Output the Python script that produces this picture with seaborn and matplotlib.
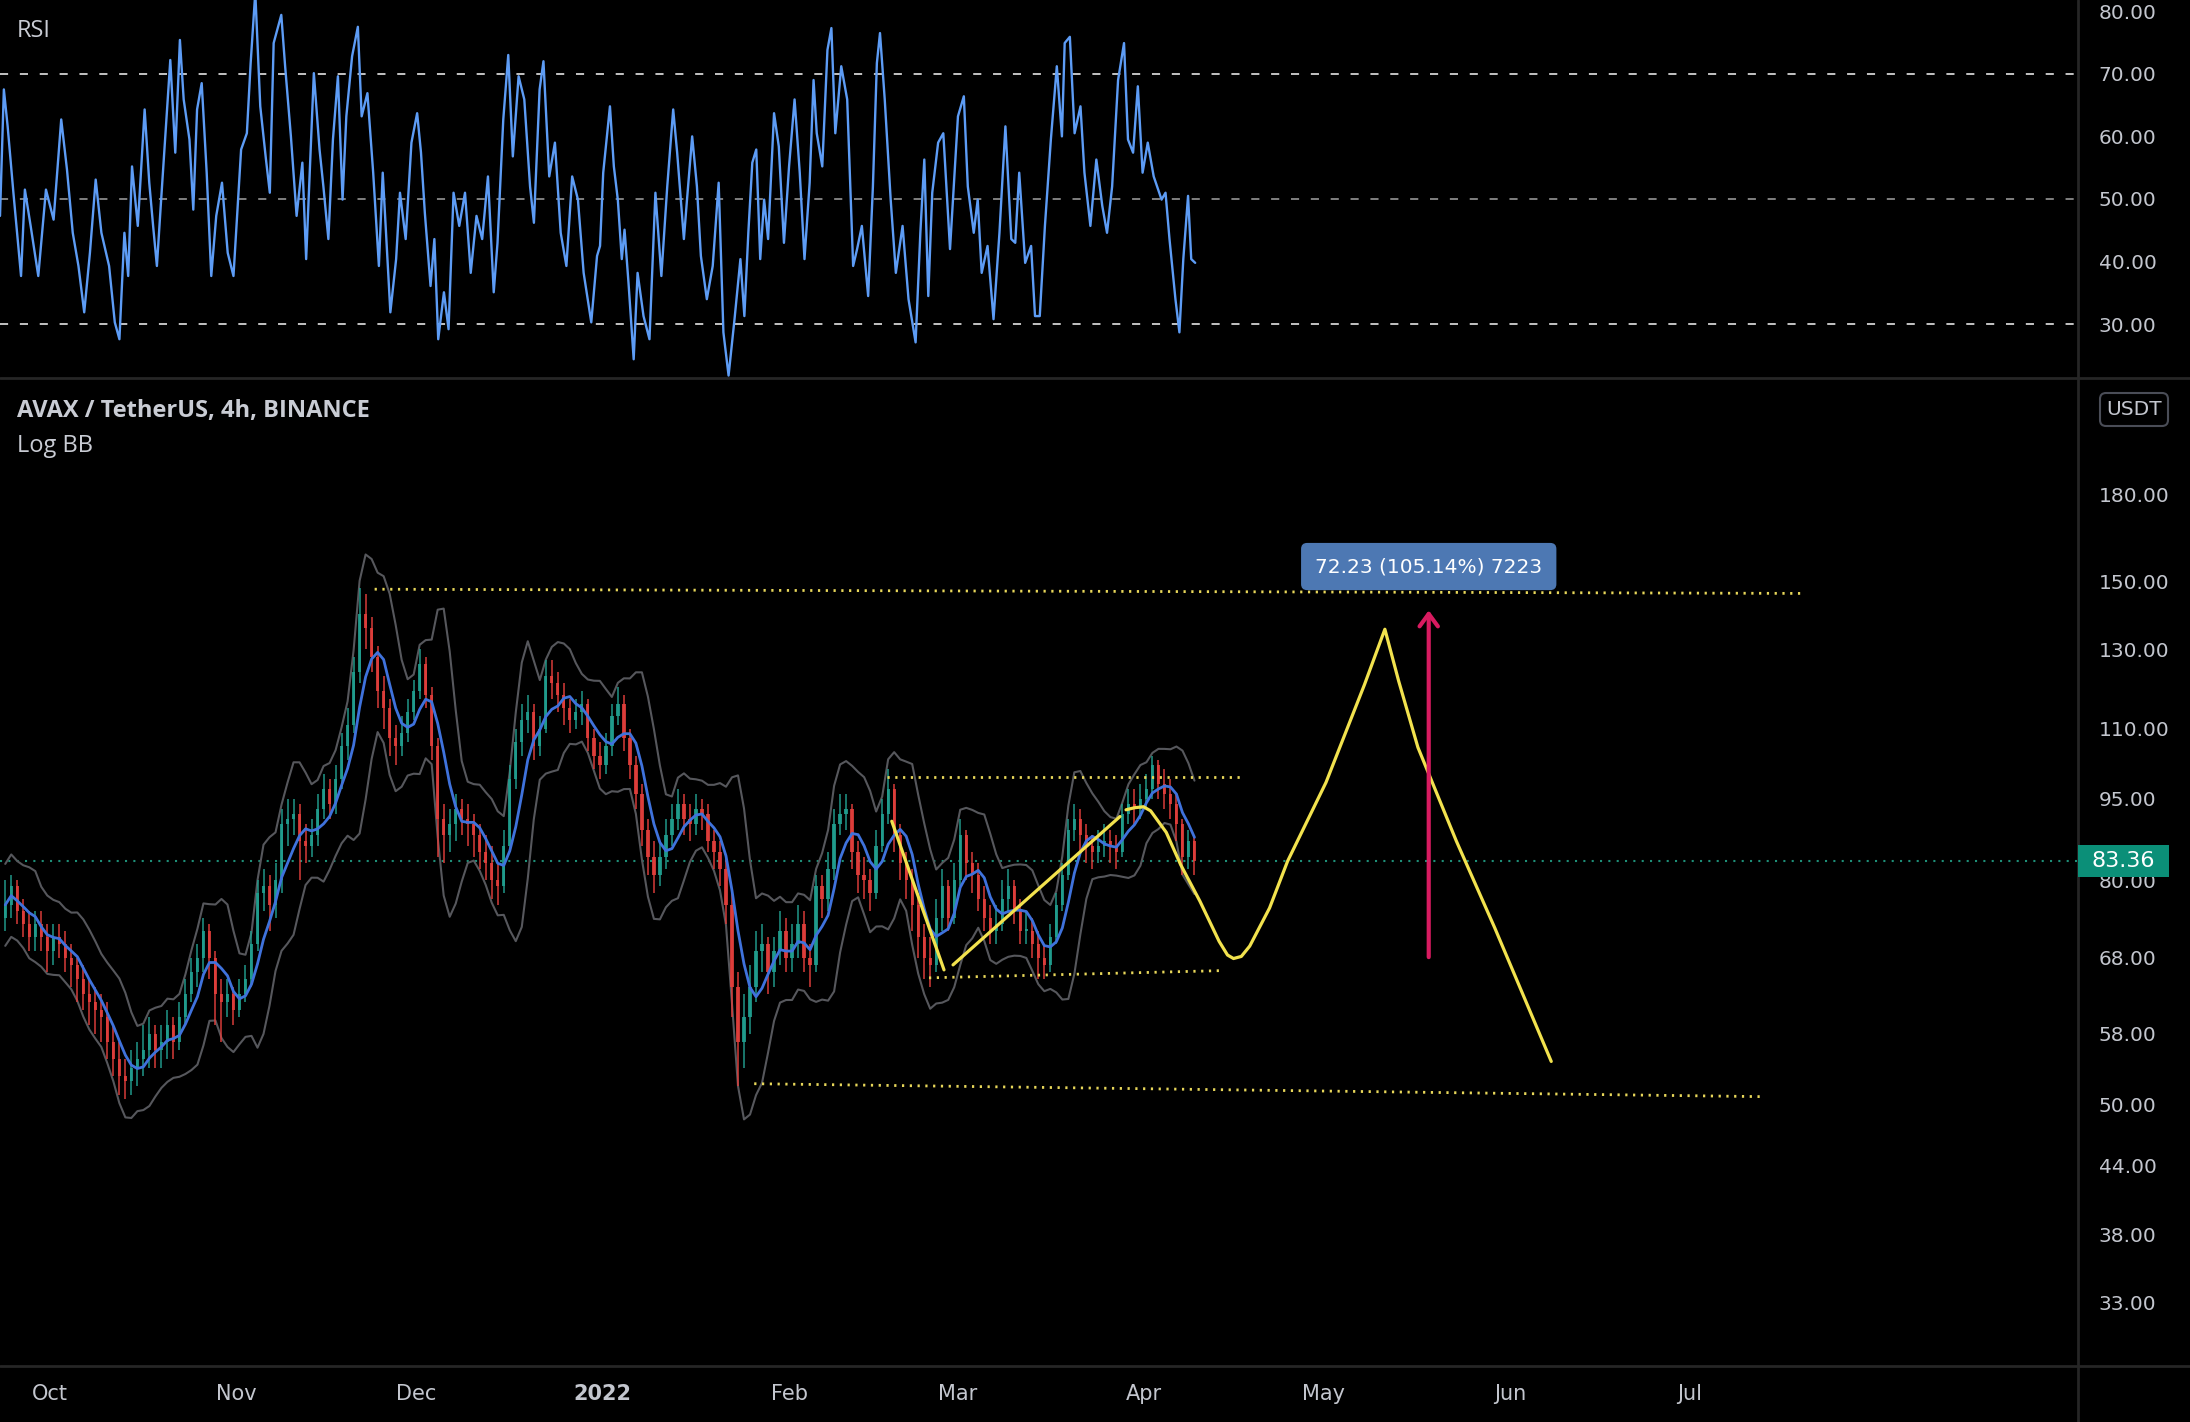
import numpy as np
import pandas as pd
import matplotlib
matplotlib.use("Agg")
import matplotlib.pyplot as plt
import matplotlib.dates as mdates
from matplotlib.lines import Line2D
from matplotlib.patches import FancyBboxPatch, Rectangle
from matplotlib.ticker import FuncFormatter, NullLocator, FixedLocator
import seaborn as sns

# ---------------- data ----------------
BASE = pd.Timestamp("2021-10-01")
first_day = -8          # first daily candle: 2021-09-23
first_open = 74

closes = [76, 79, 75, 73, 71, 73, 71, 69, 71, 70,
          68, 67, 65, 63, 62, 61, 60, 57, 55, 53,
          52.5, 54, 55, 56, 58, 56, 57, 59, 57, 60,
          63, 66, 68, 72, 68, 63, 62, 63, 61, 63,
          65, 70, 78, 79, 76, 80, 90, 91, 92, 87,
          86, 88, 93, 97, 94, 99, 106, 111, 124, 140,
          136, 128, 119, 115, 108, 106, 109, 114, 119, 126,
          118, 106, 91, 88, 90, 93, 91, 90, 88, 85,
          83, 80, 79, 86, 99, 107, 112, 114, 106, 110,
          123, 121, 118, 115, 112, 114, 116, 108, 104, 102,
          106, 113, 116, 108, 102, 96, 89, 84, 81, 84,
          88, 91, 94, 91, 90, 93, 92, 87, 85, 82,
          76, 64, 57, 60, 64, 69, 70, 66, 69, 72,
          68, 70, 73, 68, 67, 79, 77, 82, 90, 92,
          93, 85, 81, 80, 78, 86, 92, 97, 88, 83,
          80, 76, 71, 68, 67, 74, 79, 74, 80, 88,
          83, 81, 77, 74, 72, 73, 77, 79, 75, 72,
          72, 70, 68, 67, 71, 76, 81, 89, 91, 88,
          86, 85, 86, 87, 86, 85, 92, 94, 93, 95,
          97, 102, 98, 96, 94, 90, 84, 87, 83.36]

highs = [80, 81, 80, 77, 75, 75, 75, 73, 73, 73,
         72, 70, 68, 67, 65, 64, 63, 62, 59, 57,
         55, 56, 57, 59, 60, 59, 59, 61, 60, 62,
         65, 68, 70, 74, 73, 69, 65, 65, 64, 65,
         67, 72, 80, 82, 81, 83, 93, 95, 95, 94,
         90, 91, 96, 100, 99, 102, 109, 115, 128, 148,
         146, 139, 131, 123, 117, 111, 113, 117, 122, 130,
         128, 120, 108, 94, 93, 96, 95, 94, 92, 90,
         88, 86, 83, 89, 102, 110, 116, 118, 116, 113,
         127, 127, 124, 121, 117, 117, 119, 117, 110, 107,
         109, 116, 120, 118, 110, 104, 98, 91, 87, 87,
         91, 94, 97, 96, 94, 96, 95, 94, 89, 87,
         84, 78, 66, 63, 67, 72, 73, 71, 71, 75,
         74, 73, 76, 75, 70, 81, 81, 85, 93, 96,
         96, 94, 87, 84, 82, 89, 95, 101, 98, 90,
         85, 82, 78, 73, 71, 77, 82, 80, 83, 91,
         89, 85, 83, 79, 76, 76, 80, 82, 80, 77,
         75, 74, 72, 70, 73, 78, 83, 91, 94, 93,
         90, 88, 89, 90, 89, 88, 94, 97, 97, 98,
         100, 104, 103, 101, 99, 96, 91, 89, 88]

lows = [72, 74, 73, 71, 69, 69, 69, 66, 67, 68,
        66, 64, 62, 61, 59, 58, 57, 55, 53, 51,
        50.5, 51, 52, 53, 54, 54, 54, 55, 55, 56,
        59, 62, 64, 66, 65, 59, 57, 60, 59, 60,
        62, 64, 69, 75, 72, 74, 78, 86, 88, 80,
        83, 84, 86, 91, 91, 92, 97, 103, 109, 121,
        130, 124, 115, 110, 104, 102, 104, 107, 112, 117,
        115, 103, 84, 83, 85, 87, 88, 86, 84, 82,
        80, 77, 76, 78, 85, 97, 104, 109, 103, 104,
        109, 117, 114, 111, 109, 110, 111, 105, 101, 99,
        100, 104, 111, 105, 99, 93, 86, 81, 78, 79,
        82, 86, 89, 88, 87, 88, 89, 85, 82, 79,
        73, 60, 52, 54, 58, 62, 66, 63, 64, 67,
        66, 66, 68, 66, 64, 66, 74, 75, 80, 88,
        89, 82, 78, 77, 75, 77, 85, 90, 85, 80,
        77, 72, 68, 65, 64, 66, 72, 72, 73, 79,
        80, 78, 75, 72, 70, 70, 72, 75, 73, 70,
        70, 68, 65, 65, 66, 70, 75, 80, 87, 85,
        83, 82, 83, 84, 83, 82, 84, 90, 90, 91,
        93, 95, 95, 93, 91, 87, 81, 82, 81]

# RSI turning points: day offset from 2021-10-01 and value
rsi_day = [-8.37, -7.73, -7.10, -6.14, -4.87, -4.23, -3.27, -2.00, -0.72, 0.55,
           1.82, 2.78, 3.74, 4.69, 5.65, 6.60, 7.56, 8.51, 9.79, 10.74,
           11.51, 12.34, 12.97, 13.61, 14.57, 15.71, 16.48, 17.12, 17.75, 18.39,
           19.98, 20.81, 21.58, 22.21, 23.17, 23.81, 24.44, 25.21, 26.04, 26.80,
           27.63, 28.59, 29.54, 30.50, 31.77, 32.73, 33.36, 34.13, 34.96, 35.91,
           36.55, 37.19, 38.46, 39.10, 40.06, 41.01, 41.97, 42.60, 43.88, 44.83,
           45.47, 46.30, 47.06, 47.89, 48.66, 49.29, 50.25, 51.21, 51.84, 52.80,
           53.76, 54.71, 55.35, 56.62, 57.58, 58.22, 59.17, 60.13, 61.08, 61.72,
           62.36, 63.31, 63.95, 64.59, 65.54, 66.31, 67.14, 68.09, 69.05, 70.00,
           70.96, 71.91, 72.87, 73.83, 74.46, 75.42, 76.25, 77.01, 77.97, 78.92,
           79.88, 80.52, 81.47, 82.11, 83.07, 84.02, 84.98, 85.93, 86.89, 87.85,
           88.80, 90.07, 91.03,
           91.53, 92.06, 93.18, 93.83, 94.49, 95.15, 95.61, 96.27, 97.13, 97.78,
           98.77, 99.76, 100.75, 101.74, 102.72, 103.71, 104.37, 105.49, 106.01, 106.87,
           107.66, 108.32, 109.31, 110.29, 111.28, 112.07, 112.93, 113.92, 114.90, 115.56,
           116.22, 116.88, 117.54, 118.20, 118.85, 119.51, 120.50, 121.29, 122.15, 123.00,
           123.92, 124.78, 125.57, 126.43, 127.08, 127.61, 128.53, 129.39, 130.05, 130.70,
           131.69, 132.68, 133.67, 134.33, 135.12, 136.17, 136.96, 137.62, 138.14, 138.93,
           139.92, 140.78, 141.90, 142.89, 144.07, 144.86, 145.52, 146.18, 146.84, 147.82,
           148.68, 149.80, 151.12, 152.10, 152.76, 153.75, 154.41, 155.07, 156.05, 157.04,
           158.03, 159.02, 160.00, 160.66, 161.32, 162.31, 163.30, 163.95, 164.74, 165.60,
           166.59, 167.58, 168.43, 168.89, 169.75, 170.54, 171.52, 172.18, 173.17, 174.16,
           175.15, 175.94, 176.79, 177.78, 178.77, 179.43, 180.28, 181.07, 181.86, 182.72,
           183.71, 185.02, 185.68, 186.34, 187.33, 187.99, 188.64, 189.43, 189.96, 190.62]
rsi_val = [47.3, 67.5, 61.6, 51.0, 37.7, 51.5, 45.7, 37.7, 51.5, 46.7,
           62.7, 54.7, 44.6, 39.3, 31.9, 41.4, 53.1, 44.6, 39.3, 30.3,
           27.6, 44.6, 37.7, 55.2, 45.7, 64.3, 52.6, 45.7, 39.3, 48.9,
           72.2, 57.4, 75.4, 65.9, 59.5, 48.3, 64.3, 68.5, 54.2, 37.7,
           47.3, 52.6, 41.4, 37.7, 57.9, 60.5, 71.7, 83.0, 64.8, 56.3,
           51.0, 74.9, 79.4, 71.2, 60.0, 47.3, 55.8, 40.4, 70.1, 57.9,
           52.0, 43.6, 59.5, 69.6, 49.9, 63.2, 72.8, 77.5, 63.2, 66.9,
           54.2, 39.3, 54.2, 31.9, 40.4, 51.0, 43.6, 59.0, 63.7, 57.4,
           47.8, 36.1, 43.6, 27.6, 35.1, 29.2, 51.0, 45.7, 51.0, 38.2,
           47.3, 43.6, 53.6, 35.1, 43.0, 62.7, 73.0, 56.8, 69.6, 65.9,
           52.0, 46.2, 67.5, 72.0, 53.6, 59.0, 44.6, 39.3, 53.6, 49.9,
           38.2, 30.3, 40.9,
           42.5, 54.2, 64.8, 55.2, 49.9, 40.4, 45.1, 36.6, 24.4, 38.2,
           31.3, 27.6, 51.0, 37.7, 52.0, 64.3, 57.4, 43.6, 49.9, 60.0,
           52.0, 40.9, 34.0, 39.3, 52.6, 28.7, 21.8, 30.8, 40.4, 31.3,
           44.6, 55.8, 57.9, 40.4, 49.9, 43.6, 63.7, 58.4, 43.0, 55.2,
           65.9, 54.2, 40.4, 52.6, 69.0, 60.5, 55.2, 73.8, 77.3, 60.5,
           71.2, 65.9, 39.3, 42.0, 45.7, 34.5, 52.0, 71.7, 76.5, 65.9,
           49.9, 38.2, 45.7, 34.0, 27.1, 44.6, 56.3, 34.5, 51.0, 59.0,
           60.5, 42.0, 63.2, 66.4, 52.0, 44.6, 49.9, 38.2, 42.5, 30.8,
           44.6, 61.6, 43.6, 43.0, 54.2, 39.8, 42.5, 31.3, 31.3, 45.7,
           59.5, 71.2, 60.0, 74.9, 75.9, 60.5, 64.8, 54.2, 45.7, 56.3,
           48.9, 44.6, 52.0, 69.0, 74.9, 59.5, 57.4, 68.0, 54.2, 59.0,
           53.6, 49.9, 51.0, 43.6, 34.0, 28.7, 40.4, 50.5, 40.4, 39.8]

# horizontal dotted levels (start/end day, start/end price)
level_start_day = [54.0, 139.3, 146.3, 117.2]
level_end_day = [291.6, 198.4, 195.1, 285.1]
level_start_price = [147.5, 99.5, 65.2, 52.2]
level_end_price = [146.2, 99.5, 66.2, 50.8]

# yellow drawings
lineA_day, lineA_price = [140.1, 148.8], [90.6, 66.3]
lineB_day, lineB_price = [150.3, 178.1], [67.0, 91.5]
curve_day = [179.1, 180.5, 182.0, 183.2, 185.8, 188.2, 191.4, 194.6, 196.0, 197.0, 198.3,
             199.7, 203.0, 206.0, 212.4, 218.8, 222.2, 224.5, 227.7, 234.1, 240.5, 249.9]
curve_price = [92.8, 93.2, 93.4, 92.6, 88.5, 82.7, 76.6, 70.4, 68.4, 67.9, 68.2,
               69.7, 75.5, 83.3, 98.3, 120.7, 135.6, 121.6, 105.8, 86.9, 72.4, 54.7]

# measure arrow
arrow_day = 229.5
arrow_from, arrow_to = 68.1, 141.1
arrow_label = "72.23 (105.14%) 7223"
label_price = 154.7

last_price = 83.36
price_ticks = [33, 38, 44, 50, 58, 68, 80, 95, 110, 130, 150, 180]
rsi_ticks = [30, 40, 50, 60, 70, 80]
month_starts = ["2021-10-01", "2021-11-01", "2021-12-01", "2022-01-01", "2022-02-01",
                "2022-03-01", "2022-04-01", "2022-05-01", "2022-06-01", "2022-07-01"]
month_labels = ["Oct", "Nov", "Dec", "2022", "Feb", "Mar", "Apr", "May", "Jun", "Jul"]

# ---------------- helpers ----------------
def dnum(days):
    return mdates.date2num(BASE + pd.to_timedelta(np.asarray(days, dtype=float), unit="D"))

# ---------------- figure ----------------
sns.set_theme(style="dark")
plt.rcParams["font.family"] = ["DejaVu Sans"]
BG = "#000000"
W, H = 2190, 1422
fig = plt.figure(figsize=(W / 100, H / 100), dpi=100, facecolor=BG)
axw = 2078 / W
ax_r = fig.add_axes([0, 1 - 377 / H, axw, 377 / H])
ax_p = fig.add_axes([0, 1 - 1366 / H, axw, (1366 - 380) / H], sharex=ax_r)
for ax in (ax_r, ax_p):
    ax.set_facecolor(BG)
    for s in ax.spines.values():
        s.set_visible(False)
    ax.grid(False)

TICKC = "#c3c6ce"
TICKSIZE = 14.5

# ---------------- RSI panel ----------------
for lvl, col in [(70, "#d2d2d2"), (50, "#8a8a8a"), (30, "#d2d2d2")]:
    ax_r.axhline(lvl, color=col, lw=1.3, ls=(0, (4.5, 6.5)), zorder=1)
sns.lineplot(x=dnum(rsi_day), y=rsi_val, ax=ax_r, color="#5d9cf5", lw=1.7,
             estimator=None, sort=False, zorder=3)
ax_r.set_ylim(21.57, 81.78)
ax_r.yaxis.tick_right()
ax_r.set_yticks(rsi_ticks)
ax_r.yaxis.set_major_formatter(FuncFormatter(lambda v, _: f"{v:.2f}"))
ax_r.tick_params(axis="y", length=0, pad=15, labelsize=TICKSIZE, labelcolor=TICKC)
ax_r.tick_params(axis="x", length=0, labelbottom=False)
ax_r.set_xlabel("")
ax_r.set_ylabel("")

# ---------------- price panel ----------------
ax_p.set_yscale("log")
n = len(closes)
cx = dnum(np.arange(first_day, first_day + n) + 0.5)
c = np.array(closes, dtype=float)
o = np.array([first_open] + closes[:-1], dtype=float)
h = np.array(highs, dtype=float)
l = np.array(lows, dtype=float)
up = c >= o
cols = np.where(up, "#22a393", "#e8403d")
ax_p.vlines(cx, l, h, colors=cols, lw=1.2, zorder=3, alpha=0.85)
ax_p.bar(cx, np.maximum(np.abs(c - o), 0.3), bottom=np.minimum(o, c), width=0.55,
         color=cols, linewidth=0, zorder=3, alpha=0.85)

# Log Bollinger bands: mean of log close, spread of log high/low/close over the window
WIN = 5
lc, lh, ll = np.log(c), np.log(h), np.log(l)
mid = pd.Series(lc).rolling(WIN, min_periods=1).mean().to_numpy()
spread = np.empty(n)
for i in range(n):
    j = max(0, i - WIN + 1)
    pool = np.concatenate([lc[j:i + 1], lh[j:i + 1], ll[j:i + 1]])
    spread[i] = np.sqrt(np.mean((pool - mid[i]) ** 2))
sns.lineplot(x=cx, y=np.exp(mid + 2 * spread), ax=ax_p, color="#56575c", lw=1.5, estimator=None, sort=False, zorder=2)
sns.lineplot(x=cx, y=np.exp(mid - 2 * spread), ax=ax_p, color="#56575c", lw=1.5, estimator=None, sort=False, zorder=2)
sns.lineplot(x=cx, y=np.exp(mid), ax=ax_p, color="#3f72dc", lw=2.0, estimator=None, sort=False, zorder=4)

# dotted levels
YEL = "#e8d75a"
for d0, d1, p0, p1 in zip(level_start_day, level_end_day, level_start_price, level_end_price):
    ax_p.plot(dnum([d0, d1]), [p0, p1], color=YEL, lw=2.0, ls=(0, (0.8, 2.0)), zorder=5)
ax_p.axhline(last_price, color="#1e8f78", lw=1.5, ls=(0, (1, 3)), zorder=1)

# yellow drawings
YEL2 = "#f2e24e"
sns.lineplot(x=dnum(lineA_day), y=lineA_price, ax=ax_p, color=YEL2, lw=2.3, estimator=None, sort=False, zorder=6)
sns.lineplot(x=dnum(lineB_day), y=lineB_price, ax=ax_p, color=YEL2, lw=2.3, estimator=None, sort=False, zorder=6)
sns.lineplot(x=dnum(curve_day), y=curve_price, ax=ax_p, color=YEL2, lw=2.3, estimator=None, sort=False, zorder=6)

# arrow and measure label
ax_p.annotate("", xy=(dnum([arrow_day])[0], arrow_to), xytext=(dnum([arrow_day])[0], arrow_from),
              arrowprops=dict(arrowstyle="->,head_length=0.75,head_width=0.55", color="#d81b60",
                              lw=3, shrinkA=0, shrinkB=0), zorder=7)
ax_p.text(dnum([arrow_day])[0], label_price, arrow_label, ha="center", va="center", color="white",
          fontsize=14.5, zorder=8,
          bbox=dict(boxstyle="round,pad=0.7,rounding_size=0.3", fc="#4d78b3", ec="none"))

# limits & ticks
x_left = dnum([-8.372])[0]
x_right = dnum([337.6])[0]
ax_p.set_xlim(x_left, x_right)
ax_p.set_ylim(28.85, 228.9)
ax_p.yaxis.tick_right()
ax_p.yaxis.set_major_locator(FixedLocator(price_ticks))
ax_p.yaxis.set_minor_locator(NullLocator())
ax_p.yaxis.set_major_formatter(FuncFormatter(lambda v, _: f"{v:.2f}"))
ax_p.tick_params(axis="y", which="both", length=0, pad=15, labelsize=TICKSIZE, labelcolor=TICKC)
ms = mdates.date2num(pd.to_datetime(month_starts))
ax_p.set_xticks(ms)
ax_p.set_xticklabels(month_labels)
ax_p.tick_params(axis="x", length=0, pad=13, labelsize=15, labelcolor=TICKC)
for lbl in ax_p.get_xticklabels():
    if lbl.get_text() == "2022":
        lbl.set_fontweight("bold")
ax_p.set_xlabel("")
ax_p.set_ylabel("")

# ---------------- separators & overlays ----------------
SEP = "#262626"
fig.add_artist(Line2D([axw, axw], [0, 1], transform=fig.transFigure, color=SEP, lw=2))
fig.add_artist(Line2D([0, 1], [1 - 378 / H] * 2, transform=fig.transFigure, color=SEP, lw=2))
fig.add_artist(Line2D([0, 1], [1 - 1366 / H] * 2, transform=fig.transFigure, color=SEP, lw=2))

# titles
fig.text(17 / W, 1 - 411 / H, "AVAX / TetherUS, 4h, BINANCE", color="#c9ccd4", fontsize=17,
         fontweight="bold", family=["Open Sans", "DejaVu Sans"], va="center", ha="left")
fig.text(17 / W, 1 - 446 / H, "Log BB", color="#c9ccd4", fontsize=17,
         family=["Open Sans", "DejaVu Sans"], va="center", ha="left")
fig.text(17 / W, 1 - 31 / H, "RSI", color="#c9ccd4", fontsize=17,
         family=["Open Sans", "DejaVu Sans"], va="center", ha="left")

# USDT box
fig.add_artist(FancyBboxPatch((2100, H - 426), 68, 33, boxstyle="round,pad=0,rounding_size=6",
                              transform=None, fc="none", ec="#4a4d57", lw=1.5))
fig.text(2134 / W, 1 - 409.5 / H, "USDT", color=TICKC, fontsize=14.5, ha="center", va="center")

# last price label on the axis
ypx = ax_p.transData.transform((x_left, last_price))[1]
fig.add_artist(Rectangle((2078, ypx - 16), 91, 32, transform=None, fc="#0b8f78", ec="none", zorder=10))
fig.text((2078 + 45.5) / W, ypx / H, f"{last_price:.2f}", color="white", fontsize=16,
         ha="center", va="center", zorder=11)

fig.savefig("out.png", dpi=100, facecolor=BG)
